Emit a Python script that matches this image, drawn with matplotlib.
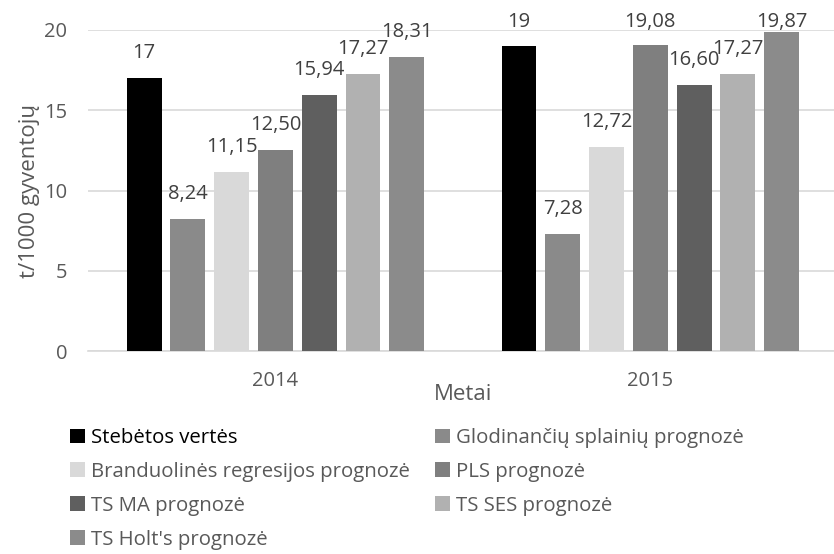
import numpy as np
import matplotlib.pyplot as plt
from matplotlib.patches import Patch

# Duomenys
metai = ['2014', '2015']
serijos = ['Stebėtos vertės', 'Glodinančių splainių prognozė',
           'Branduolinės regresijos prognozė', 'PLS prognozė',
           'TS MA prognozė', 'TS SES prognozė', "TS Holt's prognozė"]
reiksmes = [
    [17, 19],
    [8.24, 7.28],
    [11.15, 12.72],
    [12.50, 19.08],
    [15.94, 16.60],
    [17.27, 17.27],
    [18.31, 19.87],
]
etiketes = [
    ['17', '19'],
    ['8,24', '7,28'],
    ['11,15', '12,72'],
    ['12,50', '19,08'],
    ['15,94', '16,60'],
    ['17,27', '17,27'],
    ['18,31', '19,87'],
]
spalvos = ['#000000', '#8a8a8a', '#d9d9d9', '#7f7f7f', '#5f5f5f', '#b1b1b1', '#8b8b8b']

plt.rcParams['font.family'] = ['Open Sans', 'DejaVu Sans']
tekstas = '#595959'

fig = plt.figure(figsize=(8.34, 5.54), dpi=100)
ax = fig.add_axes([0.1055, 0.366, 0.899, 0.580])

x = np.arange(len(metai))
zingsnis = 0.1168
plotis = 0.093
for i, (pav, vals, spalva) in enumerate(zip(serijos, reiksmes, spalvos)):
    poz = x + (i - 3) * zingsnis
    ax.bar(poz, vals, width=plotis, color=spalva, label=pav, zorder=3)
    for px, v, lab in zip(poz, vals, etiketes[i]):
        y = min(v, 18.95)
        ax.annotate(lab, (px, y), xytext=(0, 18), textcoords='offset points',
                    ha='center', va='center', fontsize=14.5, color='#404040', zorder=4)

ax.set_xlim(-0.5, 1.5)
ax.set_ylim(0, 20)
ax.set_yticks([0, 5, 10, 15, 20])
ax.set_xticks(x)
ax.set_xticklabels(metai)
ax.yaxis.grid(True, color='#d9d9d9', linewidth=1.2, zorder=0)
for s in ['top', 'right', 'left']:
    ax.spines[s].set_visible(False)
ax.spines['bottom'].set_color('#d9d9d9')
ax.spines['bottom'].set_linewidth(1.2)
ax.tick_params(axis='both', length=0, labelsize=14.5, labelcolor=tekstas)
ax.tick_params(axis='x', pad=14)
ax.tick_params(axis='y', pad=15)
ax.set_ylabel('t/1000 gyventojų', fontsize=16, color=tekstas, labelpad=3)
ax.set_xlabel('Metai', fontsize=16, color=tekstas, labelpad=-5)

# Legenda (eilutėmis kaip Excel)
tvarka = [0, 2, 4, 6, 1, 3, 5]
rankenos = [Patch(facecolor=spalvos[k]) for k in tvarka]
pavadinimai = [serijos[k] for k in tvarka]
leg = fig.legend(rankenos, pavadinimai, ncol=2, loc='upper left',
                 bbox_to_anchor=(0.074, 0.242), frameon=False,
                 prop={'size': 14.7},
                 handlelength=0.75, handleheight=0.75, handletextpad=0.3,
                 columnspacing=1.2, labelspacing=0.68, borderaxespad=0)
for t in leg.get_texts():
    t.set_color(tekstas)
leg.get_texts()[0].set_color('#000000')

fig.savefig('out.png', dpi=100)
